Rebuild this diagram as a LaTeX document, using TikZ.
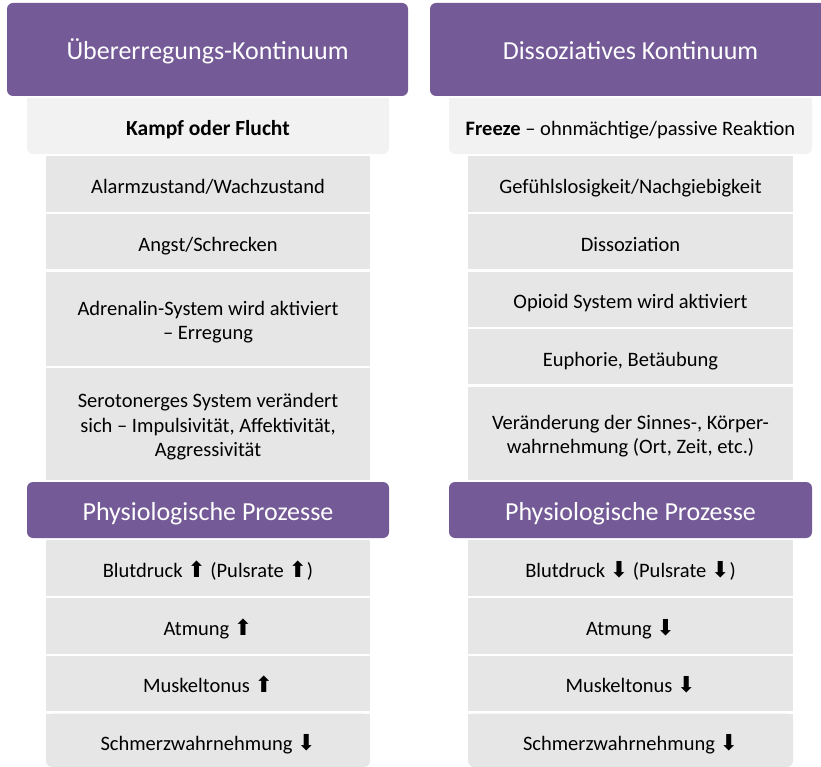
\documentclass[tikz,border=0pt]{standalone}
\usepackage{fontspec}
\setmainfont{Carlito}
\newfontfamily\arrowfont{DejaVu Sans}
\usetikzlibrary{backgrounds}
\definecolor{hdr}{RGB}{116,91,151}
\definecolor{subbg}{RGB}{242,242,242}
\definecolor{itembg}{RGB}{231,230,230}
\newcommand\UpA{{\arrowfont\fontsize{22}{24}\selectfont ⬆}}
\newcommand\DnA{{\arrowfont\fontsize{22}{24}\selectfont ⬇}}
\newcommand\bx[7]{\node[#2, minimum width={(#5-#3)*1pt}, minimum height={(#6-#4)*1pt}] (#1) at ({(#3+#5)/2},{(#4+#6)/2}) {#7};}
\begin{document}
\begin{tikzpicture}[x=1pt,y=-1pt,
  every node/.style={inner sep=0pt, outer sep=0pt, align=center},
  struts/.style 2 args={execute at begin node={\rule{0pt}{#1}}, execute at end node={\rule[-#2]{0pt}{#2}}},
  hdrbox/.style={fill=hdr, rounded corners=6pt, text=white, font=\fontsize{26}{30}\selectfont, struts={26.5pt}{6.5pt}},
  subbox/.style={font=\fontsize{20.5}{24.5}\selectfont, struts={25.5pt}{5.5pt}},
  itembox/.style={fill=itembg, font=\fontsize{20.5}{24.5}\selectfont, struts={24.5pt}{5.5pt}},
  multibox/.style={itembox, font=\fontsize{20.5}{24.2}\selectfont, struts={#1}{5.5pt}},
  lastbox/.style={font=\fontsize{20.5}{24.5}\selectfont, struts={25pt}{5.5pt}}]
\useasboundingbox (0,0) rectangle (821,767);
% left column
\bx{lh}{hdrbox}{7}{3}{408}{96}{Übererregungs-Kontinuum}
\bx{lk}{subbox}{27}{98}{389}{154}{\fontsize{21.5}{24.5}\selectfont\textbf{Kampf oder Flucht}}
\bx{la1}{itembox}{46}{156}{370}{211.7}{Alarmzustand/Wachzustand}
\bx{la2}{itembox}{46}{214}{370}{269.3}{Angst/Schrecken}
\bx{la3}{multibox={46.5pt}}{46}{271.7}{370}{365.7}{Adrenalin-System wird aktiviert\\– Erregung}
\bx{la4}{multibox={70pt}}{46}{368}{370}{480}{Serotonerges System verändert\\sich – Impulsivität, Affektivität,\\Aggressivität}
\bx{lp}{hdrbox}{27}{482}{389}{538}{Physiologische Prozesse}
\bx{lb1}{itembox}{46}{540}{370}{595.7}{Blutdruck \UpA\ (Pulsrate \UpA)}
\bx{lb2}{itembox}{46}{598}{370}{653.5}{Atmung \UpA}
\bx{lb3}{itembox}{46}{655.7}{370}{711}{Muskeltonus \UpA}
\bx{lb4}{lastbox}{46}{713.5}{370}{767}{Schmerzwahrnehmung \DnA}
% right column
\bx{rh}{hdrbox}{430}{3}{831}{96}{Dissoziatives Kontinuum}
\bx{rk}{subbox}{449}{98}{812}{154}{\textbf{Freeze} – ohnmächtige/passive Reaktion}
\bx{rc1}{itembox}{468}{156}{793}{211.7}{Gefühlslosigkeit/Nachgiebigkeit}
\bx{rc2}{itembox}{468}{214}{793}{269.3}{Dissoziation}
\bx{rc3}{itembox}{468}{271.7}{793}{326.7}{Opioid System wird aktiviert}
\bx{rc4}{itembox}{468}{329}{793}{384.3}{Euphorie, Betäubung}
\bx{rc5}{multibox={45.5pt}}{468}{386.7}{793}{480}{Veränderung der Sinnes-, Körper-\\wahrnehmung (Ort, Zeit, etc.)}
\bx{rp}{hdrbox}{449}{482}{812}{538}{Physiologische Prozesse}
\bx{rd1}{itembox}{468}{540}{793}{595.7}{Blutdruck \DnA\ (Pulsrate \DnA)}
\bx{rd2}{itembox}{468}{598}{793}{653.5}{Atmung \DnA}
\bx{rd3}{itembox}{468}{655.7}{793}{711}{Muskeltonus \DnA}
\bx{rd4}{lastbox}{468}{713.5}{793}{767}{Schmerzwahrnehmung \DnA}
% fills with only the lower corners rounded
\begin{scope}[on background layer]
  \foreach \n/\c in {lk/subbg, rk/subbg, lb4/itembg, rd4/itembg} {
    \fill[\c, rounded corners=6pt] (\n.north west) rectangle (\n.south east);
    \fill[\c] (\n.north west) rectangle ([yshift=10pt]\n.south east);
  }
\end{scope}
\end{tikzpicture}
\end{document}
